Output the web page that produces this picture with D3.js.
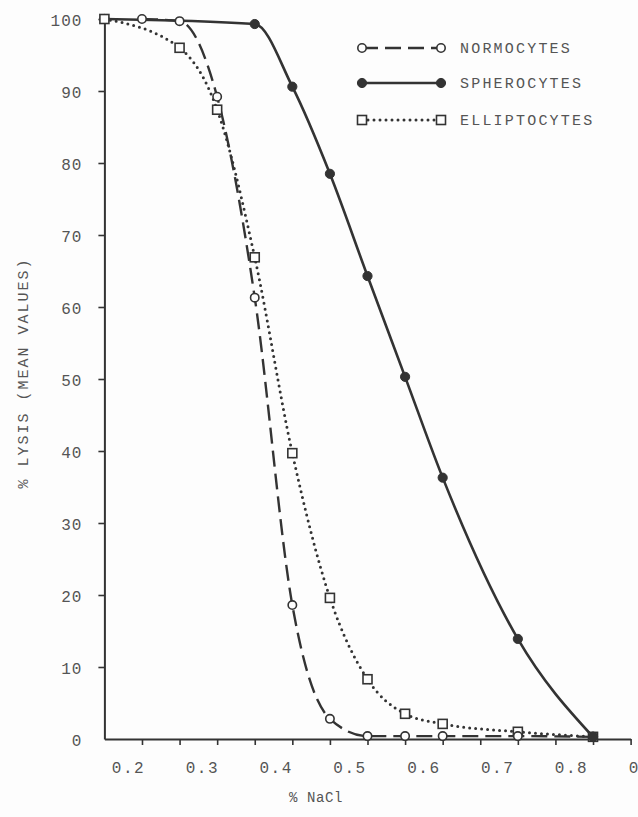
<!DOCTYPE html>
<html>
<head>
<meta charset="utf-8">
<script src="https://cdn.jsdelivr.net/npm/d3@7"></script>
<style>
  html, body { margin: 0; padding: 0; background: #fdfdfd; }
  svg { display: block; }
  text { font-family: "Liberation Mono", "DejaVu Sans Mono", monospace; fill: #555; }
</style>
</head>
<body>
<svg id="chart" width="638" height="817"></svg>
<script>
// ---- data ----
const normoX = [0.25, 0.30, 0.35, 0.40, 0.45, 0.50, 0.55, 0.60, 0.65, 0.75, 0.85];
const normoY = [100, 99.7, 89.2, 61.3, 18.6, 2.8, 0.4, 0.4, 0.4, 0.4, 0.3];

const spheroX = [0.20, 0.40, 0.45, 0.50, 0.55, 0.60, 0.65, 0.75, 0.85];
const spheroY = [100, 99.3, 90.6, 78.5, 64.3, 50.3, 36.3, 13.9, 0.3];

const ellipX = [0.20, 0.30, 0.35, 0.40, 0.45, 0.50, 0.55, 0.60, 0.65, 0.75, 0.85];
const ellipY = [100, 96.0, 87.4, 66.9, 39.7, 19.6, 8.3, 3.5, 2.1, 1.0, 0.3];

const xTickValues = [0.25, 0.30, 0.35, 0.40, 0.45, 0.50, 0.55, 0.60, 0.65, 0.70, 0.75, 0.80, 0.85, 0.90];
const xLabelValues = [0.2, 0.3, 0.4, 0.5, 0.6, 0.7, 0.8, 0.9];
const yTickValues = [0, 10, 20, 30, 40, 50, 60, 70, 80, 90, 100];
const seriesNames = ["NORMOCYTES", "SPHEROCYTES", "ELLIPTOCYTES"];

// ---- setup ----
const svg = d3.select("#chart");
const ink = "#333";

const x = d3.scaleLinear().domain([0.2, 0.9]).range([104.4, 630.6]);
const y = d3.scaleLinear().domain([0, 100]).range([739, 19]);
// hand-lettered labels sit slightly right of the data scale
const xLab = d3.scaleLinear().domain([0.2, 0.8]).range([128, 571]);

// x axis
const gx = svg.append("g").attr("transform", `translate(0,${y(0)})`)
  .call(d3.axisBottom(x).tickValues(xTickValues).tickFormat("").tickSize(6).tickSizeOuter(0));
gx.select(".domain").attr("stroke", ink).attr("stroke-width", 2);
gx.selectAll(".tick line").attr("stroke", ink).attr("stroke-width", 1.6);

const gxl = svg.append("g").attr("transform", `translate(0,${y(0)})`)
  .call(d3.axisBottom(xLab).tickValues(xLabelValues).tickFormat(d3.format(".1f")).tickSize(0).tickPadding(23));
gxl.select(".domain").remove();
gxl.selectAll("text").style("font-size", "16px").style("letter-spacing", "1.5px")
  .style("fill", "#555").attr("font-family", null);

// y axis
const gy = svg.append("g").attr("transform", `translate(${x(0.2)},0)`)
  .call(d3.axisLeft(y).tickValues(yTickValues).tickSize(6).tickSizeOuter(0).tickPadding(16));
gy.select(".domain").attr("stroke", ink).attr("stroke-width", 2);
gy.selectAll(".tick line").attr("stroke", ink).attr("stroke-width", 1.6)
  .filter(d => d === 0).remove();
gy.selectAll("text").style("font-size", "16px").style("letter-spacing", "1px")
  .style("fill", "#555").attr("dy", "0.4em");

// axis titles
svg.append("text")
  .attr("transform", `translate(28,373) rotate(-90)`)
  .attr("text-anchor", "middle")
  .style("font-size", "15px").style("letter-spacing", "2px")
  .text("% LYSIS (MEAN VALUES)");

svg.append("text")
  .attr("x", 316).attr("y", 802)
  .attr("text-anchor", "middle")
  .style("font-size", "14px").style("letter-spacing", "0.6px")
  .text("% NaCl");

// ---- series ----
const line = d3.line().x(d => x(d[0])).y(d => y(d[1])).curve(d3.curveMonotoneX);
const zip = (a, b) => a.map((v, i) => [v, b[i]]);

const normo = zip(normoX, normoY);
const sphero = zip(spheroX, spheroY);
const ellip = zip(ellipX, ellipY);

const styles = {
  normo: { dash: "16,7", cap: "butt", width: 2.4 },
  sphero: { dash: null, cap: "round", width: 2.6 },
  ellip: { dash: "0,6", cap: "round", width: 3 }
};

function drawLine(data, st) {
  svg.append("path").datum(data)
    .attr("d", line)
    .attr("fill", "none")
    .attr("stroke", ink)
    .attr("stroke-width", st.width)
    .attr("stroke-linecap", st.cap)
    .attr("stroke-dasharray", st.dash);
}

drawLine(ellip, styles.ellip);
drawLine(normo, styles.normo);
drawLine(sphero, styles.sphero);

function filledCircles(g, data, xs, ys) {
  g.selectAll(null).data(data).enter().append("circle")
    .attr("cx", d => xs(d[0])).attr("cy", d => ys(d[1])).attr("r", 4.6)
    .attr("fill", ink).attr("stroke", ink).attr("stroke-width", 1);
}
function openCircles(g, data, xs, ys) {
  g.selectAll(null).data(data).enter().append("circle")
    .attr("cx", d => xs(d[0])).attr("cy", d => ys(d[1])).attr("r", 4.2)
    .attr("fill", "#fdfdfd").attr("stroke", ink).attr("stroke-width", 1.6);
}
function squares(g, data, xs, ys) {
  g.selectAll(null).data(data).enter().append("rect")
    .attr("x", d => xs(d[0]) - 4.5).attr("y", d => ys(d[1]) - 4.5)
    .attr("width", 9).attr("height", 9)
    .attr("fill", "#fdfdfd").attr("stroke", ink).attr("stroke-width", 1.6);
}

const marks = svg.append("g");
filledCircles(marks, sphero, x, y);
squares(marks, ellip, x, y);
openCircles(marks, normo, x, y);
// spherocyte endpoint drawn over the others
filledCircles(marks, sphero.filter(d => d[0] === 0.85), x, y);

// ---- legend ----
const legendRows = [
  { name: seriesNames[0], y: 48, st: styles.normo, marker: openCircles },
  { name: seriesNames[1], y: 83, st: styles.sphero, marker: filledCircles },
  { name: seriesNames[2], y: 120, st: styles.ellip, marker: squares }
];
const lx0 = 362, lx1 = 441;
const idX = d => d, idY = d => d;
legendRows.forEach(r => {
  const g = svg.append("g");
  g.append("line")
    .attr("x1", lx0).attr("x2", lx1).attr("y1", r.y).attr("y2", r.y)
    .attr("stroke", ink).attr("stroke-width", r.st.width)
    .attr("stroke-linecap", r.st.cap).attr("stroke-dasharray", r.st.dash);
  r.marker(g, [[lx0, r.y], [lx1, r.y]], idX, idY);
  g.append("text")
    .attr("x", 460).attr("y", r.y + 5)
    .style("font-size", "15px").style("letter-spacing", "2.2px")
    .text(r.name);
});
</script>
</body>
</html>
